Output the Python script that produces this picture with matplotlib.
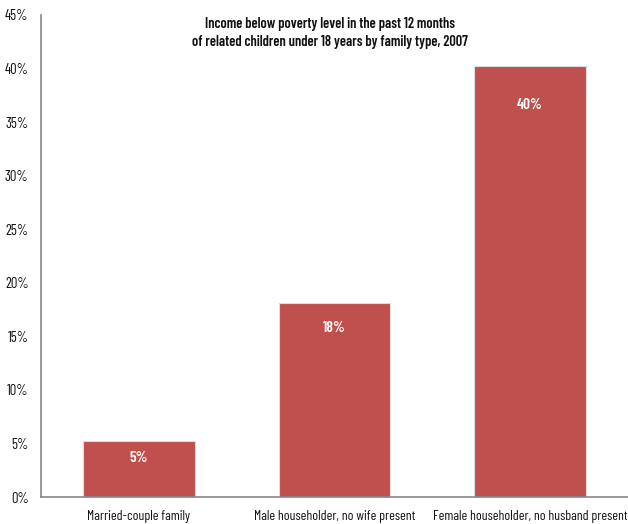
import matplotlib
matplotlib.use("Agg")
import matplotlib.pyplot as plt
from matplotlib import font_manager

categories = ["Married-couple family", "Male householder, no wife present",
              "Female householder, no husband present"]
values = [5.2, 18.1, 40.2]
value_labels = ["5%", "18%", "40%"]
yticks = [0, 5, 10, 15, 20, 25, 30, 35, 40, 45]

# condensed font, pick what is installed
names = {f.name for f in font_manager.fontManager.ttflist}
font = "DejaVu Sans"
for cand in ["Barlow Condensed", "Roboto Condensed", "Archivo Narrow", "Asap Condensed"]:
    if cand in names:
        font = cand
        break
plt.rcParams["font.family"] = [font, "DejaVu Sans"]

fig = plt.figure(figsize=(6.28, 5.24), dpi=100)
ax = fig.add_axes([0.0653, 0.0515, 0.9347, 0.9199])

bar_color = "#C0504D"
x = range(len(categories))
ax.bar(x, values, width=0.57, color=bar_color, edgecolor="#DDDDDD", linewidth=0.8)
# labels sit a bit lower on taller bars
offsets = [1.6, 2.3, 3.6]
for xi, v, lab, off in zip(x, values, value_labels, offsets):
    ax.text(xi, v - off, lab, ha="center", va="center", color="white",
            fontsize=11, fontweight="semibold")

ax.set_xlim(-0.5, 2.5)
ax.set_ylim(0, 45)
ax.set_yticks(yticks)
ax.set_yticklabels([f"{t}%" for t in yticks])
ax.set_xticks(list(x))
ax.set_xticklabels(categories)
ax.tick_params(axis="both", length=0, labelsize=10, colors="#111111")
ax.tick_params(axis="y", pad=9, labelsize=10.5)
ax.tick_params(axis="x", pad=9)

for s in ["top", "right"]:
    ax.spines[s].set_visible(False)
for s in ["left", "bottom"]:
    ax.spines[s].set_color("#888888")
    ax.spines[s].set_linewidth(1.2)

fig.text(0.525, 0.968, "Income below poverty level in the past 12 months\n"
         "of related children under 18 years by family type, 2007",
         ha="center", va="top", fontsize=10.4, fontweight="semibold",
         linespacing=1.4, color="#111111")

fig.savefig("out.png", dpi=100)
